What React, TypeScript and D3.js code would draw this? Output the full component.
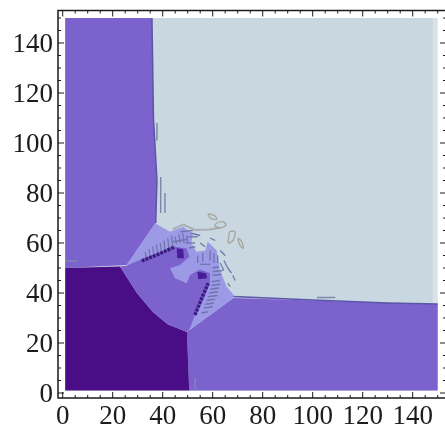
import React from "react";
import * as d3 from "d3";

type Pt = [number, number];

const majorTicks = [0, 20, 40, 60, 80, 100, 120, 140];
const minorTicks = d3.range(0, 155, 5);

const upperLeftRegion: Pt[] = [[1, 150], [35.7, 150], [36.3, 110], [37.7, 85], [37.2, 68], [25.6, 51.2], [1, 50]];
const lowerRightRegion: Pt[] = [[50.6, 1], [49.7, 24.4], [51, 25.4], [68.3, 38], [100, 37], [130, 36], [150, 35.6], [150, 1]];
const darkRegion: Pt[] = [[1, 1], [1, 50], [22.9, 50.6], [29.7, 40], [36.1, 32.4], [42, 27.5], [49.7, 24.4], [50.6, 1]];
const centerRegion: Pt[] = [[25.6, 51.2], [36.9, 67.9], [42.9, 64.5], [48.3, 66.5], [52, 63.5], [51.5, 60], [53.5, 56.5], [57, 57], [58, 60.5], [61.6, 57], [62.9, 49.2], [65.6, 42.5], [68.3, 39.4], [68.3, 38], [51, 25.4]];
const innerRegion: Pt[] = [[25.6, 50.9], [32.3, 53.9], [44.3, 58.5], [49.6, 57.9], [50.7, 54.5], [46.9, 51.2], [42.9, 49.9], [44.9, 45.9], [49.6, 43.9], [50.9, 47.2], [54.9, 49.4], [58.9, 47.9], [58.9, 43.9], [56.3, 37.2], [52.9, 31.2], [50.6, 25.2], [49.7, 24.4], [42, 27.5], [36.1, 32.4], [29.7, 40], [22.9, 50.6]];
const blobA: Pt[] = [[45.6, 57.9], [48.2, 57.5], [48.5, 53.9], [45.8, 53.9]];
const blobB: Pt[] = [[53.9, 48.5], [57.3, 47.9], [57.8, 45.9], [54.2, 45.5]];

const streakA: Pt[] = [[31.6, 52.8], [37.6, 55.2], [44.9, 58.5]];
const streakB: Pt[] = [[52.9, 31.2], [55.6, 37.9], [58.2, 43.9]];
const upperEdge: Pt[] = [[35.7, 150], [36.3, 110], [37.7, 85], [37.2, 68]];
const lowerEdge: Pt[] = [[68.3, 38.6], [100, 37.2], [130, 36], [150, 35.6]];

const loopA: Pt[] = [[61.6, 67.9], [64.2, 68.5], [65.3, 67.2], [62.9, 66.1], [60.9, 66.8]];
const loopB: Pt[] = [[58.2, 71.6], [60.9, 70.8], [61.6, 69.5], [59.2, 69.9]];
const loopC: Pt[] = [[66.3, 61.2], [66.9, 64.5], [68.9, 64.5], [68.2, 61.2], [66.3, 59.9]];
const loopD: Pt[] = [[70.2, 61.9], [71.6, 60.5], [72.2, 57.9], [70.9, 59.2]];
const tanBand: Pt[] = [[44, 65.5], [48.3, 67.4], [52.9, 65.2], [58.9, 65.4], [62.9, 66.1]];

const strayLines: Pt[][] = [
  [[37.7, 108], [37.7, 101]],
  [[39.2, 86.4], [39.2, 72]],
  [[40.9, 80], [40.9, 72]],
  [[101.7, 38.2], [109, 38.2]],
  [[1, 52.8], [5.7, 52.8]],
  [[53, 6], [53, 1]],
];
const hatchA: Pt[][] = [
  [[33, 56.5], [33.5, 53.5]], [[34.5, 57.5], [35, 54]], [[36, 58.5], [36.5, 55]], [[37.5, 59.5], [38, 55.5]],
  [[39, 60], [39.5, 56.5]], [[40.5, 61], [41, 57]], [[42, 62], [42.5, 58]], [[43.5, 63], [44, 58.5]],
  [[45, 62.5], [45.5, 59.5]], [[46.5, 63.5], [47, 60]], [[48, 64], [48.5, 60]], [[49.5, 63], [50, 60]],
  [[44, 60.5], [50, 61.5]], [[47, 64.5], [52, 65]], [[50, 62.5], [54, 62.5]], [[49, 60], [53, 60]],
  [[51, 64], [55, 63]], [[50.5, 58], [53, 58.5]],
];
const hatchB: Pt[][] = [
  [[55.5, 32], [58, 32.5]], [[56.5, 34], [60, 34.5]], [[57, 35.5], [60.5, 36]], [[57.5, 37], [61, 37.5]],
  [[58, 38.5], [62, 39]], [[58.5, 40], [62, 40.5]], [[59, 41.5], [62.5, 42]], [[59.5, 43], [63, 43.5]],
  [[59.5, 44.5], [63, 45]], [[60, 47], [63.5, 47.5]], [[60, 50], [62.5, 50.5]], [[60, 48.5], [64, 49]],
  [[59, 53], [59, 57]], [[60.5, 52], [60.5, 56]], [[62, 52], [62, 55]], [[56, 52.5], [56, 56]], [[54, 52], [54, 55]],
  [[55, 51.5], [59, 51.5]], [[63, 52], [64.5, 49]], [[64.5, 53], [66, 50]],
  [[66, 50], [67.5, 48]], [[68, 47], [69, 45]], [[66, 44], [67, 42.5]], [[55, 60], [57, 58.5]],
  [[59, 62], [61, 61]], [[63, 57], [65, 55]],
];

const x = d3.scaleLinear().domain([0, 140]).range([62.7, 412.7]);
const y = d3.scaleLinear().domain([0, 140]).range([393, 43]);
const path = d3.line<Pt>().x((d) => x(d[0])).y((d) => y(d[1]));
const loop = d3.line<Pt>().x((d) => x(d[0])).y((d) => y(d[1])).curve(d3.curveCatmullRomClosed);

const left = 58;
const right = 446;
const top = 10.5;
const bottom = 398;

export default function App() {
  const ink = "#1a1a1a";
  return (
    <svg width={445} height={430} style={{ position: "absolute", left: 0, top: 0, background: "#fff" }}>
      <defs>
        <filter id="soft" x="-5%" y="-5%" width="110%" height="110%">
          <feGaussianBlur stdDeviation="0.45" />
        </filter>
        <filter id="softText" x="-10%" y="-10%" width="120%" height="120%">
          <feGaussianBlur stdDeviation="0.35" />
        </filter>
      </defs>
      <g filter="url(#soft)">
        <rect x={x(1)} y={y(150)} width={x(150) - x(1)} height={y(1) - y(150)} fill="#d6e2e8" />
        <rect x={x(1)} y={y(150)} width={x(148) - x(1)} height={y(1) - y(150)} fill="#c9d8e0" />
        <path d={path(upperLeftRegion) + "Z"} fill="#7c62cc" />
        <path d={path(lowerRightRegion) + "Z"} fill="#7c62cc" />
        <path d={path(darkRegion) + "Z"} fill="#4a1088" />
        <path d={path(centerRegion) + "Z"} fill="#9c9ae6" />
        <path d={path(innerRegion) + "Z"} fill="#7c62cc" />
        <path d={path(blobA) + "Z"} fill="#4a1f98" />
        <path d={path(blobB) + "Z"} fill="#4a1f98" />
        <path d={path(upperEdge)!} fill="none" stroke="#5a55a8" strokeWidth={1.5} />
        <path d={path(lowerEdge)!} fill="none" stroke="#5a55a8" strokeWidth={1.5} />
        {strayLines.map((d, i) => (
          <path key={i} d={path(d)!} fill="none" stroke="#8088a8" strokeWidth={1.5} />
        ))}
        {hatchA.concat(hatchB).map((d, i) => (
          <path key={i} d={path(d)!} fill="none" stroke="#6f74ac" strokeWidth={1.3} />
        ))}
        <path d={path(streakA)!} fill="none" stroke="#3c1a80" strokeWidth={3.4} strokeDasharray="3 1" />
        <path d={path(streakB)!} fill="none" stroke="#3c1a80" strokeWidth={3.4} strokeDasharray="3 1" />
        <path d={path(tanBand)!} fill="none" stroke="#a8aeb4" strokeWidth={2} />
        {[loopA, loopB, loopC, loopD].map((d, i) => (
          <path key={i} d={loop(d)!} fill="none" stroke="#a5a89e" strokeWidth={1.4} />
        ))}
      </g>
      <g stroke={ink} fill="none">
        <rect x={left} y={top} width={right - left} height={bottom - top} strokeWidth={1.5} />
        {minorTicks.map((t) => {
          const len = t % 20 === 0 ? 6 : 3;
          return (
            <g key={t} strokeWidth={1}>
              <line x1={x(t)} x2={x(t)} y1={bottom} y2={bottom - len} />
              <line x1={x(t)} x2={x(t)} y1={top} y2={top + len} />
              <line x1={left} x2={left + len} y1={y(t)} y2={y(t)} />
              <line x1={right} x2={right - len} y1={y(t)} y2={y(t)} />
            </g>
          );
        })}
      </g>
      <g filter="url(#softText)" fontFamily="'Liberation Serif', serif" fontSize={27} fill={ink}>
        {majorTicks.map((t) => (
          <text key={t} x={x(t)} y={424} textAnchor="middle">{t}</text>
        ))}
        {majorTicks.map((t) => (
          <text key={t} x={53} y={y(t) + 9} textAnchor="end">{t}</text>
        ))}
      </g>
    </svg>
  );
}
